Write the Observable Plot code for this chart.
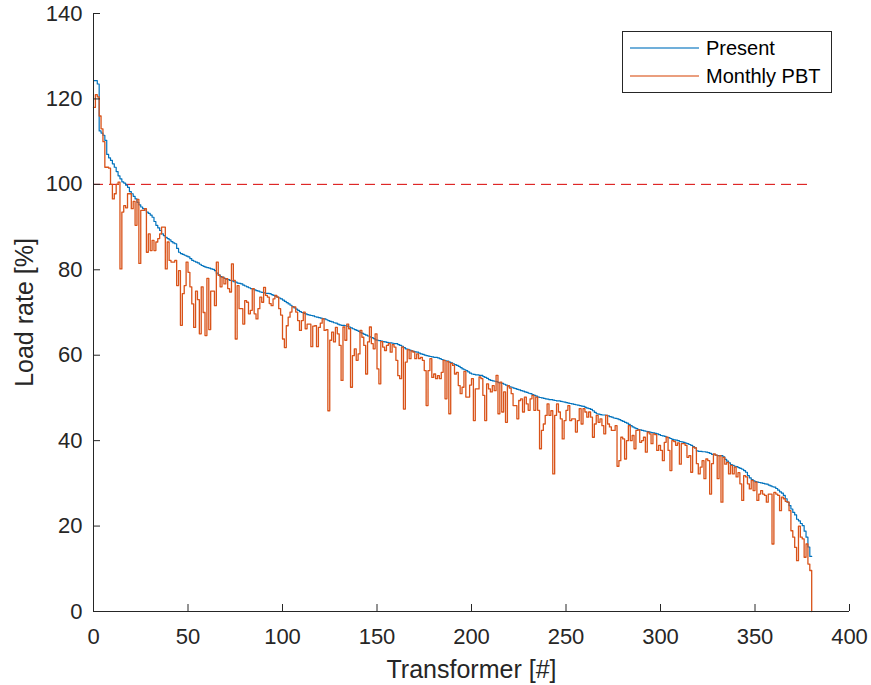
<!DOCTYPE html>
<html><head><meta charset="utf-8">
<script src="https://cdn.jsdelivr.net/npm/d3@7"></script>
<script src="https://cdn.jsdelivr.net/npm/@observablehq/plot@0.6"></script>
<style>
body{margin:0;background:#fff;font-family:"Liberation Sans",Arial,sans-serif;}
#wrap{position:relative;width:871px;height:685px;}
#legend{position:absolute;left:622px;top:31px;width:210px;height:62px;border:1px solid #262626;background:#fff;box-sizing:border-box;}
#legend .row{position:absolute;left:0;height:24px;display:flex;align-items:center;font-size:20px;color:#000;}
#legend svg{margin-left:7px;margin-right:7px;}
</style></head><body><div id="wrap"><div id="legend"></div></div>
<script>
// Load rate [%] per transformer, sorted by present load
const present = [
124.3,124.3,123.5,112.5,112,111.5,110.3,107,106.2,105.6,
104.8,104,103,102,101.3,100.6,100.3,99.8,99.3,98.3,
97.8,97.2,96.6,95.8,95.2,94.7,94.3,94,93.5,93.2,
92.8,92.3,91.3,90.4,89.8,89.2,88.4,88,87.6,87.3,
87,86.6,86.3,86.1,85,84.1,83.8,83.6,83.4,83.2,
83,82.6,82.2,82,81.8,81.6,81.3,81,80.8,80.6,
80.5,80.4,80.2,80.1,79.8,79.2,78.8,78.4,78.2,78,
77.8,77.7,77.5,77.4,77.2,77.1,76.9,76.8,76.7,76.4,
76.2,76,75.8,75.6,75.5,75.3,75.1,75,74.8,74.7,
74.6,74.5,74.5,74.4,74.2,74,73.8,73.6,73.4,73.2,
72.9,72.6,72.3,72,71.7,71.4,71.1,70.8,70.5,70.2,
70,69.8,69.7,69.5,69.4,69.3,69.2,69,68.9,68.8,
68.7,68.6,68.5,68.3,68.1,67.9,67.8,67.6,67.5,67.3,
67.1,67,67,66.9,66.8,66.6,66.4,66.2,66,65.8,
65.6,65.3,65.1,64.9,64.7,64.5,64.3,64.1,63.9,63.6,
63.5,63.4,63.3,63.2,63.1,63,62.9,62.9,62.8,62.7,
62.7,62.5,62.3,62.1,61.8,61.5,61.4,61.2,61,60.9,
60.8,60.7,60.5,60.3,60.2,60,59.9,59.8,59.7,59.6,
59.5,59.5,59.4,59.2,59,58.8,58.7,58.6,58.4,58.2,
58,57.8,57.6,57.4,57.1,56.8,56.6,56.4,56.1,55.8,
55.6,55.5,55.4,55.4,55.3,55.3,55,54.8,54.6,54.3,
54.1,54,53.9,53.8,53.6,53.5,53.4,53.2,53,52.8,
52.6,52.5,52.3,52.2,52,51.9,51.7,51.6,51.4,51.3,
51.1,51,50.8,50.6,50.4,50.2,50.1,50,49.9,49.8,
49.7,49.6,49.6,49.5,49.4,49.3,49.3,49.2,49.1,49,
48.9,48.8,48.7,48.6,48.5,48.4,48.3,48.2,48.1,48,
47.8,47.6,47.5,47.3,47,46.6,46.3,46.2,46.1,46,
46,45.9,45.8,45.6,45.5,45.3,45.2,45.1,44.9,44.7,
44.5,44.3,44.1,43.8,43.5,43.2,43,42.8,42.6,42.5,
42.4,42.3,42.2,42.1,42,41.9,41.8,41.7,41.6,41.4,
41.2,41.1,41,40.8,40.7,40.5,40.3,40.2,40.1,40,
39.8,39.7,39.6,39.4,39.3,39.1,38.9,38.6,38.3,37.6,
37.5,37.5,37.4,37.4,37.3,37.2,37,36.8,36.7,36.6,
36.5,36.5,36.5,36.2,35.6,35.2,34.8,34.4,34.2,34,
33.9,33.7,33.5,33.3,33,32.6,31.8,31.3,30.9,30.6,
30.4,30.3,30.2,30.1,30,29.9,29.8,29.6,29.4,29.2,
29.1,28.8,28.4,28,27.7,27.2,26.4,25.6,24.8,24,
23.2,22.6,21.6,21.2,20.6,20.1,18.8,17.4,15.1,12.9
];
const monthlyPBT = [
118,121,120.5,116,113,110,104,104,103.8,100,
96.6,97.8,100,100.5,80.2,93.5,95,94.5,97.8,97.8,
94.3,96,90.4,96.5,81.5,93.9,93.9,94.3,84.1,88.4,
84.5,86.9,84.5,86.5,87.3,88.4,90,90,80.2,86.5,
82.2,81.8,81.8,82.2,76.3,79.8,67,74.4,76.3,81.8,
79.4,76,72,66.5,75,73,65,76,70,64.6,
78,66,75,75,71.6,81.8,78.7,76,78.3,76.7,
77.9,75.6,74.8,81.4,77.5,63.8,76.3,70.9,70.9,67.3,
72.8,72.4,69.7,70.5,75.6,69.7,68.5,70.9,73.6,72.4,
75.9,74,73.6,72.1,71.6,73.2,74,73.6,70.9,69.4,
63.8,61.8,66.9,68.9,70.1,71.3,71.3,70.1,68.1,65.8,
68.1,70.1,66.2,67.3,67.3,62,66.8,66.9,62,66.5,
67.5,68.5,65.8,66,47,63.5,65.4,63.1,66.5,65,
62.3,54.1,66.6,63.5,67.3,66.2,52.5,59.9,61.5,58.8,
60.3,65.8,64.2,62.3,55.6,63.1,66.6,62.7,61.5,65,
56.8,53.3,63.2,61.9,61.1,62.3,62.7,60.7,62.5,61.9,
58.8,55.2,54.5,61.9,47.4,58.4,61.3,59.2,61,60.7,
59.2,60.3,59.2,59.5,58.8,56.4,48.2,56.4,59.2,54.8,
55.6,54.5,55.2,54.5,56,58.8,49.8,58.5,46.3,58.1,
57.6,55.6,56,52.9,51,52.5,56.2,50.2,50.2,53,
54.5,44.7,52.1,52.1,54.9,54.5,50.6,44.7,53.3,52.1,
51.4,52.9,51.7,55.3,46.3,53.7,46.7,51.4,44.3,52.9,
52.3,51,48.2,48.2,45.1,49.4,49.8,46.7,50.2,48.6,
47.1,49.8,50.6,47.1,50.2,47.1,38.1,42.4,43.9,45.9,
48.6,45.9,47,32.2,45.9,48.6,46.7,45.1,40.4,44.7,
47.1,48.2,44.7,45.1,45.1,42,44.7,47.5,43.9,47.5,
46.7,45.5,46.7,45.5,40.8,43.9,45.9,44.3,45.1,43.5,
41.6,45.9,43.9,43.2,42.4,42.4,43.5,34,35.3,40.8,
40.4,35.7,40,43.5,40,41.2,38.1,42.4,42.5,39.6,
40,40.8,37.3,42,41.6,39.3,41.6,41.4,37.7,38.9,
37.7,35.3,39.6,40.8,37.7,33,40,39.8,38.9,39.5,
34.5,39.3,39.3,38.9,36.1,36.5,32.6,38.5,38.3,34.6,
32.2,33.8,35.3,31.1,35.7,35.3,27.5,34.6,36.9,36.6,
31.1,36.5,25.6,36.1,34.5,34.9,32.2,34.2,32.2,33.8,
31.5,32.5,29.9,26,31.8,31.5,29.9,28.7,30.7,28.3,
30.3,26,27.5,28.3,27.5,27.2,25.6,27.5,27.5,15.8,
27.9,27.5,27.2,23.6,26.8,26.4,25.8,25.6,23.6,18.9,
17.4,15,11.9,20,17.4,17,12.7,15.8,11.1,9.6
];
const seriesNames = ["Present", "Monthly PBT"];
const seriesColors = ["#0072BD", "#D95319"];
const xTicks = [0, 50, 100, 150, 200, 250, 300, 350, 400];
const yTicks = [0, 20, 40, 60, 80, 100, 120, 140];
const limitValue = 100;      // dashed reference level
const limitEnd = 380;        // dashed line spans transformers 0..380
const xLabel = "Transformer [#]";
const yLabel = "Load rate [%]";

// stair tables (value i holds over [i, i+1))
const presentRows = present.map((v, i) => ({x: i, y: v}));
presentRows.push({x: present.length, y: present[present.length - 1]});
const pbtRows = monthlyPBT.map((v, i) => ({x: i, y: v}));
pbtRows.push({x: monthlyPBT.length, y: 0});

const axisColor = "#262626";
const chart = Plot.plot({
  width: 871, height: 685,
  marginLeft: 93, marginRight: 22, marginTop: 13, marginBottom: 74,
  x: {domain: [0, 400]},
  y: {domain: [0, 140]},
  style: {fontFamily: "'Liberation Sans', Arial, sans-serif", fontSize: "22px", color: axisColor, background: "#fff"},
  marks: [
    Plot.ruleY([limitValue], {x1: 0, x2: limitEnd, stroke: "#d80000", strokeWidth: 1, strokeDasharray: "10,6"}),
    Plot.line(presentRows, {x: "x", y: "y", curve: "step-after", stroke: seriesColors[0], strokeWidth: 1.2}),
    Plot.line(pbtRows, {x: "x", y: "y", curve: "step-after", stroke: seriesColors[1], strokeWidth: 1.3}),
    Plot.ruleX([0], {stroke: axisColor}),
    Plot.ruleY([0], {stroke: axisColor}),
    Plot.axisX(xTicks, {tickSize: -7, tickPadding: 24, label: null, stroke: axisColor, fill: axisColor}),
    Plot.axisY(yTicks, {tickSize: -7, tickPadding: 18, label: null, stroke: axisColor, fill: axisColor}),
    Plot.text([xLabel], {frameAnchor: "bottom", dy: 58, lineAnchor: "middle", text: d => d, fontSize: 25, fill: axisColor}),
    Plot.text([yLabel], {frameAnchor: "left", dx: -69, rotate: -90, textAnchor: "middle", lineAnchor: "middle", text: d => d, fontSize: 25, fill: axisColor})
  ]
});
const wrap = document.getElementById("wrap");
wrap.insertBefore(chart, wrap.firstChild);

const legend = document.getElementById("legend");
seriesNames.forEach((name, i) => {
  const row = document.createElement("div");
  row.className = "row";
  row.style.top = (i === 0 ? 4 : 32) + "px";
  row.innerHTML = `<svg width="69" height="4"><line x1="0" x2="69" y1="2" y2="2" stroke="${seriesColors[i]}" stroke-width="1.5" stroke-opacity="0.75"/></svg><span>${name}</span>`;
  legend.appendChild(row);
});
</script>
</body></html>
